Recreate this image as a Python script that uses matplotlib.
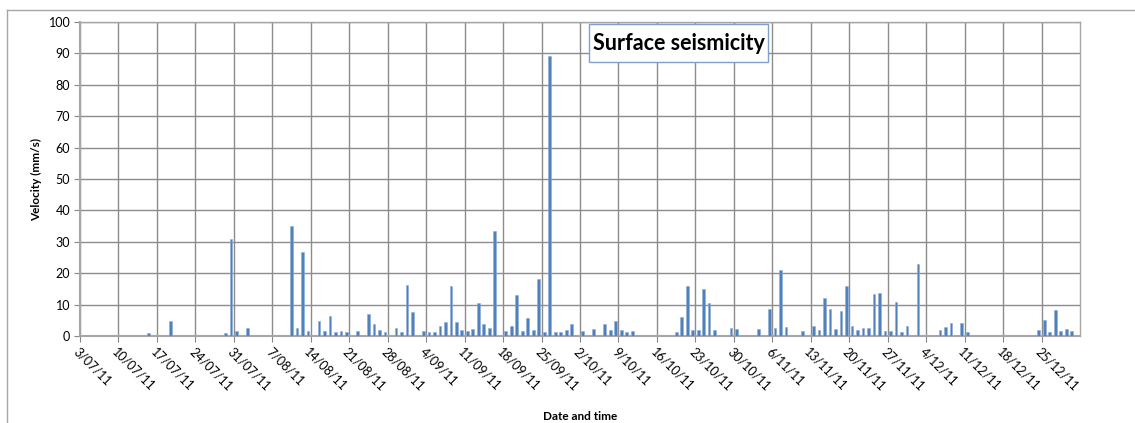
import numpy as np
import pandas as pd
import matplotlib
matplotlib.use("Agg")
import matplotlib.pyplot as plt
from matplotlib.lines import Line2D
from matplotlib.patches import Rectangle

plt.rcParams["font.family"] = ["Lato", "DejaVu Sans"]

# daily peak velocity, day offset from 3 July 2011
start_date = "2011-07-03"
day_offset = [12, 16, 26, 27, 28, 30, 38, 39, 40, 41, 43, 44, 45, 46, 47, 48, 50, 52, 53, 54,
              55, 57, 58, 59, 60, 62, 63, 64, 65, 66, 67, 68, 69, 70, 71, 72, 73, 74, 75, 77,
              78, 79, 80, 81, 82, 83, 84, 85, 86, 87, 88, 89, 91, 93, 95, 96, 97, 98, 99, 100,
              108, 109, 110, 111, 112, 113, 114, 115, 118, 119, 123, 125, 126, 127, 128, 131,
              133, 134, 135, 136, 137, 138, 139, 140, 141, 142, 143, 144, 145, 146, 147, 148,
              149, 150, 152, 156, 157, 158, 160, 161, 174, 175, 176, 177, 178, 179, 180]
velocity = [1.1, 4.8, 1.1, 30.9, 1.5, 2.7, 34.9, 2.7, 26.6, 1.5, 4.8, 1.5, 6.3, 1.2, 1.5, 1.2, 1.5, 6.9, 3.7, 1.9,
            1.2, 2.7, 1.2, 16.2, 7.5, 1.5, 1.2, 1.2, 3.3, 4.4, 15.8, 4.4, 1.8, 1.5, 2.2, 10.5, 3.9, 2.7, 33.4, 1.5,
            3.3, 13.0, 1.5, 5.8, 1.8, 18.0, 1.2, 89.3, 1.2, 1.2, 1.8, 3.7, 1.5, 2.2, 3.9, 1.8, 4.8, 1.8, 1.2, 1.5,
            1.2, 6.2, 15.8, 1.8, 1.8, 15.1, 10.5, 1.8, 2.7, 2.2, 2.2, 8.7, 2.7, 20.9, 3.0, 1.5,
            3.3, 1.8, 12.1, 8.7, 2.2, 8.0, 15.8, 3.3, 1.8, 2.7, 2.7, 13.3, 13.7, 1.5, 1.5, 10.8,
            1.2, 3.3, 23.0, 1.8, 3.0, 4.0, 4.0, 1.2, 1.8, 5.2, 1.2, 8.4, 1.5, 2.2, 1.5]

dates = pd.Timestamp(start_date) + pd.to_timedelta(day_offset, unit="D") + pd.Timedelta(hours=12)
tick_dates = pd.date_range("2011-07-03", "2011-12-25", freq="7D")
tick_labels = [f"{d.day}/{d.month:02d}/{d.year % 100}" for d in tick_dates]

W, H = 1135, 423
fig = plt.figure(figsize=(W / 100, H / 100), dpi=100)
ax = fig.add_axes([80 / W, 1 - 336 / H, 1000 / W, 314 / H])

ax.bar(dates, velocity, width=0.5, color="#4F81BD", edgecolor="#8EADD6", linewidth=0.4, zorder=3)

ax.set_xlim(pd.Timestamp("2011-07-03"), pd.Timestamp("2012-01-01"))
ax.set_ylim(0, 100)
ax.set_yticks(np.arange(0, 101, 10))
ax.set_xticks(tick_dates)
ax.set_xticklabels(tick_labels, rotation=-45, ha="left", va="top", rotation_mode="anchor")
ax.tick_params(axis="x", labelsize=9, length=4, color="#868686", pad=3)
ax.tick_params(axis="y", labelsize=9, length=4, color="#868686", pad=3)

ax.grid(True, color="#8C8C8C", linewidth=1.0, zorder=0)
for side in ["top", "right"]:
    ax.spines[side].set_color("#A6A6A6")
    ax.spines[side].set_linewidth(1.0)
for side in ["left", "bottom"]:
    ax.spines[side].set_color("#A6A6A6")
    ax.spines[side].set_linewidth(1.5)
ax.set_axisbelow(True)

ax.set_ylabel("Velocity (mm/s)", fontsize=8.5, fontweight="bold", labelpad=5)
ax.set_xlabel("Date and time", fontsize=8.5, fontweight="bold", labelpad=13)

# title box
fig.add_artist(Rectangle((589 / W, 1 - 62 / H), 179 / W, 38 / H, transform=fig.transFigure,
                         facecolor="white", edgecolor="#7F9FCF", linewidth=1.0, zorder=5))
fig.text(678.5 / W, 1 - 43 / H, "Surface seismicity", ha="center", va="center",
         fontsize=15.5, fontweight="bold", zorder=6)

# outer chart frame (cropped)
fig.add_artist(Line2D([7 / W, 1.0], [1 - 10 / H] * 2, transform=fig.transFigure, color="#A6A6A6", lw=1))
fig.add_artist(Line2D([7 / W] * 2, [0, 1 - 10 / H], transform=fig.transFigure, color="#A6A6A6", lw=1))

fig.savefig("out.png", dpi=100)
